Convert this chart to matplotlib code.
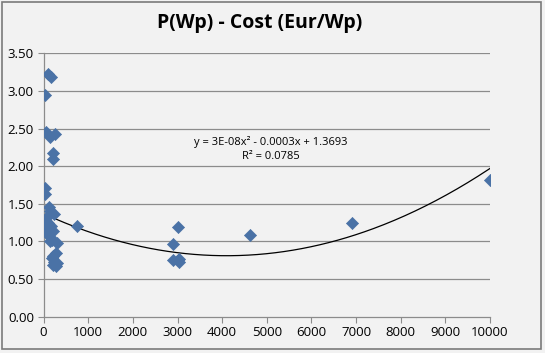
import numpy as np
import matplotlib
matplotlib.use("Agg")
import matplotlib.pyplot as plt
from matplotlib.patches import Rectangle

# power (Wp) and cost (Eur/Wp)
power_wp = [100, 160, 30, 50, 150, 250, 200, 210, 30, 30,
            110, 150, 240, 80, 60, 100, 170, 40, 60, 110,
            200, 130, 150, 180, 140, 300, 220, 280, 190, 240,
            260, 300, 270, 220,
            750, 2910, 3020, 2890, 3010, 3040, 3030, 4620, 6920, 10000]
cost_eur_wp = [3.23, 3.18, 2.94, 2.46, 2.39, 2.43, 2.18, 2.09, 1.71, 1.63,
               1.46, 1.41, 1.37, 1.32, 1.27, 1.25, 1.21, 1.17, 1.13, 1.15,
               1.14, 1.10, 1.06, 1.02, 1.00, 0.98, 0.81, 0.84, 0.78, 0.73,
               0.70, 0.71, 0.67, 0.69,
               1.21, 0.97, 1.19, 0.75, 0.75, 0.77, 0.72, 1.09, 1.24, 1.81]

# polynomial trendline (unrounded coefficients, shown rounded in the label)
trend_coef = [3.33e-8, -2.73e-4, 1.3693]
trend_label = "y = 3E-08x\u00b2 - 0.0003x + 1.3693\nR\u00b2 = 0.0785"

x_ticks = list(range(0, 10001, 1000))
y_ticks = [0.0, 0.5, 1.0, 1.5, 2.0, 2.5, 3.0, 3.5]

bg = "#f2f2f2"
plt.rcParams["font.family"] = ["Open Sans", "DejaVu Sans"]

fig = plt.figure(figsize=(5.45, 3.53), dpi=100, facecolor=bg)
ax = fig.add_axes([0.080, 0.103, 0.819, 0.746])
ax.set_facecolor(bg)

# horizontal gridlines
for yv in y_ticks[1:]:
    ax.axhline(yv, color="#8c8c8c", lw=0.9, zorder=1)

ax.scatter(power_wp, cost_eur_wp, marker="D", s=38, color="#4a72a6",
           edgecolors="#4a72a6", linewidths=0.5, zorder=3)

xs = np.linspace(0, 10000, 300)
ax.plot(xs, np.polyval(trend_coef, xs), color="black", lw=0.9, zorder=2)

ax.text(5100, 2.23, trend_label, ha="center", va="center", fontsize=8,
        multialignment="center", linespacing=1.35)

ax.set_xlim(0, 10000)
ax.set_ylim(0, 3.5)
ax.set_xticks(x_ticks)
ax.set_yticks(y_ticks)
ax.set_yticklabels(["%.2f" % v for v in y_ticks])
ax.tick_params(direction="out", length=4, color="#8c8c8c", labelsize=9.5, pad=3)
for side in ["top", "right"]:
    ax.spines[side].set_visible(False)
for side in ["left", "bottom"]:
    ax.spines[side].set_color("#8c8c8c")
    ax.spines[side].set_linewidth(0.9)

fig.text(0.476, 0.935, "P(Wp) - Cost (Eur/Wp)", ha="center", va="center",
         fontsize=14, fontweight="bold")

# outer frame of the chart
fig.patches.append(Rectangle((0.003, 0.01), 0.990, 0.985, transform=fig.transFigure,
                             fill=False, edgecolor="#7a7a7a", lw=1.2))

fig.savefig("out.png", dpi=100, facecolor=bg)
